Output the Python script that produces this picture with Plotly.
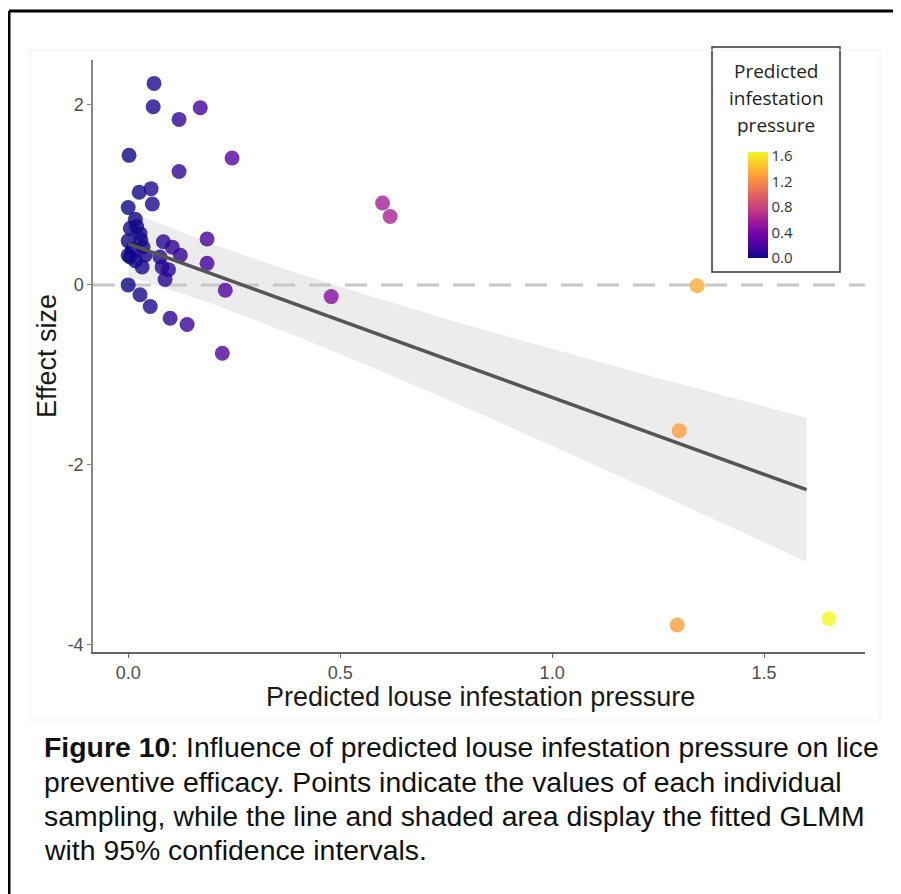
import plotly.graph_objects as go

# individual samplings: predicted infestation pressure vs effect size
pressure = [0.061, 0.059, 0.12, 0.17, 0.002, 0.245, 0.12, 0.026, 0.054, 0.057,
            0.0, 0.017, 0.005, 0.028, 0.0, 0.035, 0.0, 0.017, 0.033, 0.02,
            0.03, 0.01, 0.04, 0.083, 0.104, 0.186, 0.123, 0.186, 0.08, 0.075,
            0.087, 0.0, 0.028, 0.052, 0.099, 0.139, 0.229, 0.222, 0.479, 0.60,
            0.618, 1.342, 1.30, 1.295, 1.653, 0.005, 0.095]
effect = [2.24, 1.98, 1.84, 1.97, 1.44, 1.41, 1.26, 1.03, 1.07, 0.90,
          0.86, 0.73, 0.63, 0.57, 0.49, 0.42, 0.33, 0.27, 0.20, 0.65,
          0.50, 0.40, 0.33, 0.48, 0.42, 0.51, 0.33, 0.24, 0.20, 0.31,
          0.06, 0.0, -0.11, -0.24, -0.37, -0.44, -0.06, -0.76, -0.13, 0.91,
          0.76, -0.01, -1.62, -3.78, -3.71, 0.31, 0.17]

# fitted GLMM and 95% CI
fit_x = [0.0, 0.2, 0.4, 0.6, 0.8, 1.0, 1.2, 1.4, 1.6]
fit_y = [0.46, 0.118, -0.224, -0.566, -0.908, -1.25, -1.592, -1.934, -2.276]
ci_upper = [0.82, 0.448, 0.126, -0.166, -0.448, -0.71, -0.972, -1.224, -1.476]
ci_lower = [0.10, -0.212, -0.574, -0.966, -1.368, -1.79, -2.212, -2.644, -3.076]

y_ticks = [2, 0, -2, -4]
y_ticktext = ["2", "0", "-2", "-4"]
x_ticks = [0.0, 0.5, 1.0, 1.5]
cbar_ticks = [0.0, 0.4, 0.8, 1.2, 1.6]

legend_title = ["Predicted", "infestation", "pressure"]
caption_lines = ["<b>Figure 10</b>: Influence of predicted louse infestation pressure on lice",
                 "preventive efficacy. Points indicate the values of each individual",
                 "sampling, while the line and shaded area display the fitted GLMM",
                 "with 95% confidence intervals."]

# window pixel -> paper fraction (plot area spans x 93..865, y 60..652 in the window)
def px(x):
    return (x - 93) / 772

def py(y):
    return (652 - y) / 592

fig = go.Figure()

# ribbon
fig.add_trace(go.Scatter(x=fit_x + fit_x[::-1], y=ci_upper + ci_lower[::-1],
                         fill="toself", fillcolor="rgba(200,200,200,0.35)",
                         line=dict(width=0), mode="lines", hoverinfo="skip",
                         showlegend=False))

# zero reference line
fig.add_trace(go.Scatter(x=[-0.083, 1.738], y=[0, 0], mode="lines",
                         line=dict(color="#c8c8c8", width=3, dash="22px,14px"),
                         hoverinfo="skip", showlegend=False))

fig.add_trace(go.Scatter(
    x=pressure, y=effect, mode="markers", showlegend=False,
    marker=dict(size=15, color=pressure, colorscale="Plasma", cmin=0, cmax=1.66,
                opacity=0.8, line=dict(width=0),
                colorbar=dict(x=px(748), xanchor="left", xpad=0,
                              y=py(205), yanchor="middle", ypad=0,
                              lenmode="pixels", len=106, thickness=20,
                              outlinewidth=0, tickvals=cbar_ticks, tickformat=".1f",
                              ticks="",
                              tickfont=dict(family="Open Sans", size=15, color="#333333")))))

fig.add_trace(go.Scatter(x=fit_x, y=fit_y, mode="lines",
                         line=dict(color="#555555", width=3.5),
                         hoverinfo="skip", showlegend=False))

fig.update_layout(
    width=893, height=886,
    margin=dict(l=85, r=36, t=52, b=242),
    paper_bgcolor="white", plot_bgcolor="white",
    font=dict(family="Liberation Sans", color="#222222"),
    xaxis=dict(range=[-0.083, 1.738], tickvals=x_ticks, tickformat=".1f",
               showgrid=False, zeroline=False, showline=True, linecolor="#666666",
               linewidth=1.5, ticks="outside", ticklen=4, tickcolor="#666666",
               tickfont=dict(size=18, color="#4d4d4d")),
    yaxis=dict(range=[-4.08, 2.5], tickvals=y_ticks, ticktext=y_ticktext,
               showgrid=False, zeroline=False, showline=True, linecolor="#888888",
               linewidth=1.5, ticks="outside", ticklen=4, tickcolor="#888888",
               tickfont=dict(size=18, color="#4d4d4d")),
)

# axis titles
fig.add_annotation(text="Predicted louse infestation pressure", xref="paper", yref="paper",
                   x=px(480), y=py(697), xanchor="center", yanchor="middle",
                   showarrow=False, font=dict(size=27, color="#1a1a1a"))
fig.add_annotation(text="Effect size", xref="paper", yref="paper", textangle=-90,
                   x=px(47), y=0.5, xanchor="center", yanchor="middle",
                   showarrow=False, font=dict(size=27, color="#1a1a1a"))

# legend box and title
fig.add_shape(type="rect", xref="paper", yref="paper",
              x0=px(712), x1=px(840), y0=py(272), y1=py(47),
              line=dict(color="#333333", width=1.5))
for i, t in enumerate(legend_title):
    fig.add_annotation(text=t, xref="paper", yref="paper",
                       x=px(776), y=py(71 + 27 * i), xanchor="center", yanchor="middle",
                       showarrow=False, font=dict(family="Open Sans", size=19, color="#222222"))

# faint panel border and outer frame
fig.add_shape(type="rect", xref="paper", yref="paper",
              x0=px(30), x1=px(880), y0=py(720), y1=py(50),
              line=dict(color="#f0f0f0", width=1))
fig.add_shape(type="line", xref="paper", yref="paper",
              x0=px(9), x1=px(905), y0=py(11), y1=py(11),
              line=dict(color="black", width=3))
fig.add_shape(type="line", xref="paper", yref="paper",
              x0=px(9), x1=px(9), y0=py(11), y1=py(900),
              line=dict(color="black", width=3))

# caption
for i, line in enumerate(caption_lines):
    fig.add_annotation(text=line, xref="paper", yref="paper",
                       x=px(42), xanchor="left", y=py(747 + 34.5 * i), yanchor="middle",
                       showarrow=False, font=dict(size=28.4, color="#111111"))

fig.write_html("out.html")
